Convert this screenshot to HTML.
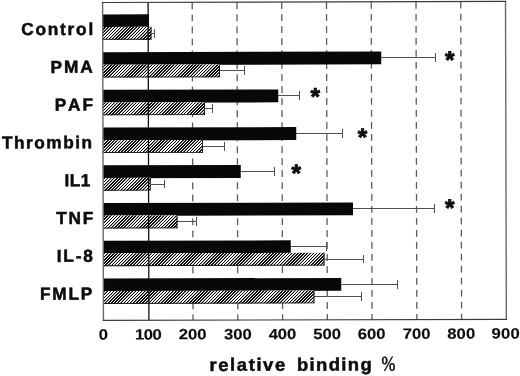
<!DOCTYPE html>
<html><head><meta charset="utf-8"><title>relative binding</title>
<style>
html,body{margin:0;padding:0;background:#fff;overflow:hidden;}
svg{display:block;}
text{font-family:"Liberation Sans",Arial,Helvetica,sans-serif;font-weight:bold;fill:#0c0c0c;stroke:#0c0c0c;font-kerning:none;white-space:pre;}
.lab{font-size:17.3px;stroke-width:0.5px;}
.tick{font-size:14.8px;stroke-width:0.12px;}
.ttl{font-size:17.8px;stroke-width:0.5px;}
.pct{font-family:"Liberation Serif","Times New Roman",serif;font-size:20.7px;font-weight:normal;stroke-width:0.55px;}
.ast{font-size:24.5px;stroke-width:0.8px;}
</style></head><body>
<svg width="520" height="376" viewBox="0 0 520 376">
<defs>
<clipPath id="hc"><polygon points="102.78,26.96 151.48,26.83 151.52,39.68 102.81,39.81"/><polygon points="102.88,64.69 219.98,64.38 220.02,77.23 102.91,77.54"/><polygon points="102.98,102.42 204.98,102.15 205.02,115.00 103.01,115.27"/><polygon points="103.07,140.15 202.98,139.89 203.02,152.74 103.11,153.00"/><polygon points="103.17,177.88 150.73,177.76 150.77,190.61 103.21,190.73"/><polygon points="103.27,215.61 177.48,215.42 177.52,228.27 103.31,228.46"/><polygon points="103.37,253.34 324.48,252.76 324.52,265.61 103.40,266.19"/><polygon points="103.47,291.07 314.48,290.52 314.52,303.37 103.50,303.92"/></clipPath>
<filter id="ct" x="0" y="0" width="100%" height="100%" filterUnits="objectBoundingBox" color-interpolation-filters="sRGB"><feComponentTransfer><feFuncR type="linear" slope="2.6" intercept="-0.8"/><feFuncG type="linear" slope="2.6" intercept="-0.8"/><feFuncB type="linear" slope="2.6" intercept="-0.8"/></feComponentTransfer></filter>
</defs>
<rect width="520" height="376" fill="#fff"/>
<g transform="rotate(-0.15 260 188)">

<line x1="192.71" y1="2.3" x2="192.71" y2="320.0" stroke="#5c5c5c" stroke-width="1.3" stroke-dasharray="6.8 5.2"/>
<line x1="237.47" y1="2.3" x2="237.47" y2="320.0" stroke="#5c5c5c" stroke-width="1.3" stroke-dasharray="6.8 5.2"/>
<line x1="282.22" y1="2.3" x2="282.22" y2="320.0" stroke="#5c5c5c" stroke-width="1.3" stroke-dasharray="6.8 5.2"/>
<line x1="326.98" y1="2.3" x2="326.98" y2="320.0" stroke="#5c5c5c" stroke-width="1.3" stroke-dasharray="6.8 5.2"/>
<line x1="371.73" y1="2.3" x2="371.73" y2="320.0" stroke="#5c5c5c" stroke-width="1.3" stroke-dasharray="6.8 5.2"/>
<line x1="416.49" y1="2.3" x2="416.49" y2="320.0" stroke="#5c5c5c" stroke-width="1.3" stroke-dasharray="6.8 5.2"/>
<line x1="461.24" y1="2.3" x2="461.24" y2="320.0" stroke="#5c5c5c" stroke-width="1.3" stroke-dasharray="6.8 5.2"/>
<path d="M151.91 32.93H154.71M154.71 28.53V37.33" stroke="#505050" stroke-width="1" shape-rendering="crispEdges" fill="none"/>
<rect x="103.2" y="14.00" width="46.24" height="12.950000000000001" fill="#080808"/>
<rect x="103.2" y="26.55" width="48.71" height="12.85" fill="#fff"/>
<path d="M381.59 58.10H435.79M435.79 53.70V62.50" stroke="#505050" stroke-width="1" shape-rendering="crispEdges" fill="none"/>
<path d="M220.31 70.66H244.51M244.51 66.25V75.06" stroke="#505050" stroke-width="1" shape-rendering="crispEdges" fill="none"/>
<rect x="103.2" y="51.73" width="278.39" height="12.950000000000001" fill="#080808"/>
<rect x="103.2" y="64.28" width="117.11" height="12.85" fill="#fff"/>
<path d="M278.49 95.83H299.44M299.44 91.43V100.23" stroke="#505050" stroke-width="1" shape-rendering="crispEdges" fill="none"/>
<path d="M205.21 108.38H212.41M212.41 103.98V112.78" stroke="#505050" stroke-width="1" shape-rendering="crispEdges" fill="none"/>
<rect x="103.2" y="89.46" width="175.29" height="12.950000000000001" fill="#080808"/>
<rect x="103.2" y="102.01" width="102.01" height="12.85" fill="#fff"/>
<path d="M296.39 133.56H342.84M342.84 129.16V137.97" stroke="#505050" stroke-width="1" shape-rendering="crispEdges" fill="none"/>
<path d="M203.11 146.12H224.81M224.81 141.72V150.52" stroke="#505050" stroke-width="1" shape-rendering="crispEdges" fill="none"/>
<rect x="103.2" y="127.19" width="193.19" height="12.950000000000001" fill="#080808"/>
<rect x="103.2" y="139.74" width="99.91" height="12.85" fill="#fff"/>
<path d="M240.79 171.29H274.24M274.24 166.89V175.69" stroke="#505050" stroke-width="1" shape-rendering="crispEdges" fill="none"/>
<path d="M150.76 183.84H164.21M164.21 179.44V188.25" stroke="#505050" stroke-width="1" shape-rendering="crispEdges" fill="none"/>
<rect x="103.2" y="164.92" width="137.59" height="12.950000000000001" fill="#080808"/>
<rect x="103.2" y="177.47" width="47.56" height="12.85" fill="#fff"/>
<path d="M352.94 209.02H434.64M434.64 204.62V213.42" stroke="#505050" stroke-width="1" shape-rendering="crispEdges" fill="none"/>
<path d="M177.41 221.57H196.61M196.61 217.17V225.97" stroke="#505050" stroke-width="1" shape-rendering="crispEdges" fill="none"/>
<rect x="103.2" y="202.65" width="249.74" height="12.950000000000001" fill="#080808"/>
<rect x="103.2" y="215.20" width="74.21" height="12.85" fill="#fff"/>
<path d="M290.60 246.75H326.55M326.55 242.35V251.16" stroke="#505050" stroke-width="1" shape-rendering="crispEdges" fill="none"/>
<path d="M324.31 259.31H363.26M363.26 254.91V263.70" stroke="#505050" stroke-width="1" shape-rendering="crispEdges" fill="none"/>
<rect x="103.2" y="240.38" width="187.40" height="12.950000000000001" fill="#080808"/>
<rect x="103.2" y="252.93" width="221.11" height="12.85" fill="#fff"/>
<path d="M341.00 284.48H397.45M397.45 280.08V288.88" stroke="#505050" stroke-width="1" shape-rendering="crispEdges" fill="none"/>
<path d="M314.21 297.03H360.91M360.91 292.63V301.43" stroke="#505050" stroke-width="1" shape-rendering="crispEdges" fill="none"/>
<rect x="103.2" y="278.11" width="237.80" height="12.950000000000001" fill="#080808"/>
<rect x="103.2" y="290.66" width="211.01" height="12.85" fill="#fff"/>
</g>
<g clip-path="url(#hc)"><g filter="url(#ct)"><rect x="100" y="20" width="300" height="290" fill="#fff"/><path d="M-215.25 321.24L103.91 0.41M-212.13 321.24L107.03 0.40M-209.00 321.23L110.16 0.39M-205.88 321.22L113.28 0.38M-202.75 321.21L116.41 0.38M-199.63 321.20L119.53 0.37M-196.50 321.20L122.66 0.36M-193.38 321.19L125.78 0.35M-190.25 321.18L128.91 0.34M-187.13 321.17L132.03 0.33M-184.00 321.16L135.16 0.33M-180.88 321.15L138.28 0.32M-177.75 321.15L141.41 0.31M-174.63 321.14L144.53 0.30M-171.50 321.13L147.66 0.29M-168.38 321.12L150.78 0.29M-165.25 321.11L153.91 0.28M-162.13 321.11L157.03 0.27M-159.00 321.10L160.16 0.26M-155.88 321.09L163.28 0.25M-152.75 321.08L166.41 0.24M-149.63 321.07L169.53 0.24M-146.50 321.06L172.66 0.23M-143.38 321.06L175.78 0.22M-140.25 321.05L178.91 0.21M-137.13 321.04L182.03 0.20M-134.00 321.03L185.16 0.20M-130.88 321.02L188.28 0.19M-127.75 321.02L191.41 0.18M-124.63 321.01L194.53 0.17M-121.50 321.00L197.66 0.16M-118.38 320.99L200.78 0.15M-115.25 320.98L203.91 0.15M-112.13 320.97L207.03 0.14M-109.00 320.97L210.16 0.13M-105.88 320.96L213.28 0.12M-102.75 320.95L216.41 0.11M-99.63 320.94L219.53 0.11M-96.50 320.93L222.66 0.10M-93.38 320.93L225.78 0.09M-90.25 320.92L228.91 0.08M-87.13 320.91L232.03 0.07M-84.00 320.90L235.16 0.06M-80.88 320.89L238.28 0.06M-77.75 320.88L241.41 0.05M-74.63 320.88L244.53 0.04M-71.50 320.87L247.66 0.03M-68.38 320.86L250.78 0.02M-65.25 320.85L253.91 0.02M-62.13 320.84L257.03 0.01M-59.00 320.84L260.16 -0.00M-55.88 320.83L263.28 -0.01M-52.75 320.82L266.41 -0.02M-49.63 320.81L269.53 -0.03M-46.50 320.80L272.66 -0.03M-43.38 320.79L275.78 -0.04M-40.25 320.79L278.91 -0.05M-37.13 320.78L282.03 -0.06M-34.00 320.77L285.16 -0.07M-30.88 320.76L288.28 -0.07M-27.75 320.75L291.41 -0.08M-24.63 320.75L294.53 -0.09M-21.50 320.74L297.66 -0.10M-18.38 320.73L300.78 -0.11M-15.25 320.72L303.91 -0.12M-12.13 320.71L307.03 -0.12M-9.00 320.70L310.16 -0.13M-5.88 320.70L313.28 -0.14M-2.75 320.69L316.41 -0.15M0.37 320.68L319.53 -0.16M3.50 320.67L322.66 -0.16M6.62 320.66L325.78 -0.17M9.75 320.66L328.91 -0.18M12.87 320.65L332.03 -0.19M16.00 320.64L335.16 -0.20M19.12 320.63L338.28 -0.21M22.25 320.62L341.41 -0.21M25.37 320.61L344.53 -0.22M28.50 320.61L347.66 -0.23M31.62 320.60L350.78 -0.24M34.75 320.59L353.91 -0.25M37.87 320.58L357.03 -0.25M41.00 320.57L360.16 -0.26M44.12 320.57L363.28 -0.27M47.25 320.56L366.41 -0.28M50.37 320.55L369.53 -0.29M53.50 320.54L372.66 -0.30M56.62 320.53L375.78 -0.30M59.75 320.52L378.91 -0.31M62.87 320.52L382.03 -0.32M66.00 320.51L385.16 -0.33M69.12 320.50L388.28 -0.34M72.25 320.49L391.41 -0.34M75.37 320.48L394.53 -0.35M78.50 320.48L397.66 -0.36M81.62 320.47L400.78 -0.37M84.75 320.46L403.91 -0.38M87.87 320.45L407.03 -0.39M91.00 320.44L410.16 -0.39M94.12 320.43L413.28 -0.40M97.25 320.43L416.41 -0.41M100.37 320.42L419.53 -0.42M103.50 320.41L422.66 -0.43M106.62 320.40L425.78 -0.43M109.75 320.39L428.91 -0.44M112.87 320.39L432.03 -0.45M116.00 320.38L435.16 -0.46M119.12 320.37L438.28 -0.47M122.25 320.36L441.41 -0.48M125.37 320.35L444.53 -0.48M128.50 320.34L447.66 -0.49M131.62 320.34L450.78 -0.50M134.75 320.33L453.91 -0.51M137.87 320.32L457.03 -0.52M141.00 320.31L460.16 -0.52M144.12 320.30L463.28 -0.53M147.25 320.30L466.41 -0.54M150.37 320.29L469.53 -0.55M153.50 320.28L472.66 -0.56M156.62 320.27L475.78 -0.57M159.75 320.26L478.91 -0.57M162.87 320.25L482.03 -0.58M166.00 320.25L485.16 -0.59M169.12 320.24L488.28 -0.60M172.25 320.23L491.41 -0.61M175.37 320.22L494.53 -0.61M178.50 320.21L497.66 -0.62M181.62 320.21L500.78 -0.63M184.75 320.20L503.91 -0.64M187.87 320.19L507.03 -0.65M191.00 320.18L510.16 -0.66M194.12 320.17L513.28 -0.66M197.25 320.16L516.41 -0.67M200.37 320.16L519.53 -0.68M203.50 320.15L522.66 -0.69M206.62 320.14L525.78 -0.70M209.75 320.13L528.91 -0.70M212.87 320.12L532.03 -0.71M216.00 320.12L535.16 -0.72M219.12 320.11L538.28 -0.73M222.25 320.10L541.41 -0.74M225.37 320.09L544.53 -0.75M228.50 320.08L547.66 -0.75M231.62 320.07L550.78 -0.76M234.75 320.07L553.91 -0.77M237.87 320.06L557.03 -0.78M241.00 320.05L560.16 -0.79M244.12 320.04L563.28 -0.79M247.25 320.03L566.41 -0.80M250.37 320.03L569.53 -0.81M253.50 320.02L572.66 -0.82M256.62 320.01L575.78 -0.83M259.75 320.00L578.91 -0.84M262.87 319.99L582.03 -0.84M266.00 319.98L585.16 -0.85M269.12 319.98L588.28 -0.86M272.25 319.97L591.41 -0.87M275.37 319.96L594.53 -0.88M278.50 319.95L597.66 -0.88M281.62 319.94L600.78 -0.89M284.75 319.94L603.91 -0.90M287.87 319.93L607.03 -0.91M291.00 319.92L610.16 -0.92M294.12 319.91L613.28 -0.93M297.25 319.90L616.41 -0.93M300.37 319.89L619.53 -0.94M303.50 319.89L622.66 -0.95M306.62 319.88L625.78 -0.96M309.75 319.87L628.91 -0.97M312.87 319.86L632.03 -0.97M316.00 319.85L635.16 -0.98M319.12 319.85L638.28 -0.99M322.25 319.84L641.41 -1.00M325.37 319.83L644.53 -1.01M328.50 319.82L647.66 -1.02M331.62 319.81L650.78 -1.02M334.75 319.80L653.91 -1.03M337.87 319.80L657.03 -1.04M341.00 319.79L660.16 -1.05M344.12 319.78L663.28 -1.06M347.25 319.77L666.41 -1.06M350.37 319.76L669.53 -1.07M353.50 319.76L672.66 -1.08M356.62 319.75L675.78 -1.09M359.75 319.74L678.91 -1.10M362.87 319.73L682.03 -1.11M366.00 319.72L685.16 -1.11M369.12 319.71L688.28 -1.12M372.25 319.71L691.41 -1.13M375.37 319.70L694.53 -1.14M378.50 319.69L697.66 -1.15" stroke="#000" stroke-width="1.1" fill="none"/></g></g>
<g transform="rotate(-0.15 260 188)">
<path d="M103.2 38.90H151.41V26.55" stroke="#1a1a1a" stroke-width="1" fill="none"/>
<path d="M103.2 76.63H219.81V64.28" stroke="#1a1a1a" stroke-width="1" fill="none"/>
<path d="M103.2 114.36H204.71V102.01" stroke="#1a1a1a" stroke-width="1" fill="none"/>
<path d="M103.2 152.09H202.61V139.74" stroke="#1a1a1a" stroke-width="1" fill="none"/>
<path d="M103.2 189.82H150.26V177.47" stroke="#1a1a1a" stroke-width="1" fill="none"/>
<path d="M103.2 227.55H176.91V215.20" stroke="#1a1a1a" stroke-width="1" fill="none"/>
<path d="M103.2 265.28H323.81V252.93" stroke="#1a1a1a" stroke-width="1" fill="none"/>
<path d="M103.2 303.01H313.71V290.66" stroke="#1a1a1a" stroke-width="1" fill="none"/>
<line x1="148.57" y1="2.05" x2="148.57" y2="320.0" stroke="#0a0a0a" stroke-width="1.25"/>
<path d="M103.10000000000001 1.5499999999999998V320.5M506.0 1.5499999999999998V320.5" fill="none" stroke="#6a6a6a" stroke-width="1.4"/>
<path d="M102.5 2.05H506.7M102.5 320.0H506.7" fill="none" stroke="#3a3a3a" stroke-width="1.15"/>
<text class="lab" x="21.60" y="34.48" letter-spacing="1.767">Control</text>
<text class="lab" x="50.93" y="72.35" letter-spacing="1.812">PMA</text>
<text class="ast" x="445.38" y="68.70">*</text>
<text class="lab" x="54.93" y="110.17" letter-spacing="1.875">PAF</text>
<text class="ast" x="310.69" y="105.24">*</text>
<text class="lab" x="2.00" y="147.82" letter-spacing="1.504">Thrombin</text>
<text class="ast" x="357.83" y="145.72">*</text>
<text class="lab" x="64.43" y="185.79" letter-spacing="0.512">IL1</text>
<text class="ast" x="291.59" y="181.70">*</text>
<text class="lab" x="56.11" y="223.57" letter-spacing="1.725">TNF</text>
<text class="ast" x="445.00" y="216.70">*</text>
<text class="lab" x="56.53" y="261.37" letter-spacing="1.792">IL-8</text>
<text class="lab" x="39.63" y="299.13" letter-spacing="1.783">FMLP</text>
<text class="tick" transform="translate(98.24 339.18) scale(1.13 1)" letter-spacing="0.000">0</text>
<text class="tick" transform="translate(134.72 339.16) scale(1.13 1)" letter-spacing="-0.519">100</text>
<text class="tick" transform="translate(178.24 339.16) scale(1.13 1)" letter-spacing="-0.043">200</text>
<text class="tick" transform="translate(223.52 339.16) scale(1.13 1)" letter-spacing="0.009">300</text>
<text class="tick" transform="translate(268.26 339.16) scale(1.13 1)" letter-spacing="-0.142">400</text>
<text class="tick" transform="translate(312.88 339.16) scale(1.13 1)" letter-spacing="-0.017">500</text>
<text class="tick" transform="translate(357.34 339.16) scale(1.13 1)" letter-spacing="0.002">600</text>
<text class="tick" transform="translate(402.40 339.16) scale(1.13 1)" letter-spacing="-0.024">700</text>
<text class="tick" transform="translate(446.78 339.16) scale(1.13 1)" letter-spacing="0.072">800</text>
<text class="tick" transform="translate(491.04 339.16) scale(1.13 1)" letter-spacing="0.223">900</text>
<text class="ttl" transform="translate(209.01 370.77) scale(1.04 1)" letter-spacing="1.505">relative</text>
<text class="ttl" transform="translate(296.41 370.80) scale(1.04 1)" letter-spacing="1.287">binding</text>
<text class="pct" transform="translate(381.12 370.82) scale(0.806 1)">%</text>
</g></svg></body></html>
